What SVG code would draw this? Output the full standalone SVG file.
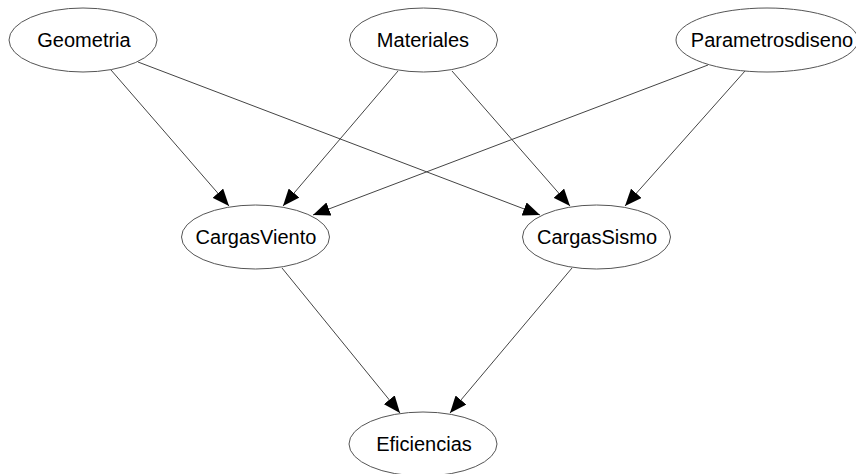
<svg xmlns="http://www.w3.org/2000/svg" width="856" height="474" viewBox="0 0 856 474">
<style>
.node ellipse{fill:#fff;stroke:#555;stroke-width:1}
.node text{font-family:"Liberation Sans",Arial,sans-serif;font-size:20px;fill:#000;text-anchor:middle}
.edge line{stroke:#444;stroke-width:1}
</style>
<defs>
<marker id="ah" markerUnits="userSpaceOnUse" markerWidth="18" markerHeight="14" refX="17" refY="7" orient="auto">
<path d="M0,0 L17,7 L0,14 z" fill="#000"/>
</marker>
</defs>
<rect width="856" height="474" fill="#fff"/>
<g id="edges" class="edge">
<line x1="111" y1="70" x2="229" y2="206" marker-end="url(#ah)"/>
<line x1="138" y1="62" x2="540" y2="215" marker-end="url(#ah)"/>
<line x1="398" y1="71" x2="283" y2="206" marker-end="url(#ah)"/>
<line x1="452" y1="71" x2="570" y2="206" marker-end="url(#ah)"/>
<line x1="708" y1="65" x2="313" y2="215" marker-end="url(#ah)"/>
<line x1="745" y1="71" x2="625" y2="206" marker-end="url(#ah)"/>
<line x1="282" y1="268" x2="400" y2="413" marker-end="url(#ah)"/>
<line x1="572" y1="268" x2="450" y2="413" marker-end="url(#ah)"/>
</g>
<g id="Geometria" class="node"><ellipse cx="83" cy="40" rx="74" ry="32"/><text x="84" y="47">Geometria</text></g>
<g id="Materiales" class="node"><ellipse cx="423.5" cy="40" rx="74" ry="32"/><text x="423" y="47">Materiales</text></g>
<g id="Parametrosdiseno" class="node"><ellipse cx="767" cy="40" rx="91" ry="32"/><text x="772" y="47">Parametrosdiseno</text></g>
<g id="CargasViento" class="node"><ellipse cx="255.5" cy="237" rx="74" ry="32"/><text x="256" y="244">CargasViento</text></g>
<g id="CargasSismo" class="node"><ellipse cx="596.5" cy="237" rx="74" ry="32"/><text x="597" y="244">CargasSismo</text></g>
<g id="Eficiencias" class="node"><ellipse cx="423" cy="444" rx="74" ry="32"/><text x="424" y="451">Eficiencias</text></g>
</svg>
